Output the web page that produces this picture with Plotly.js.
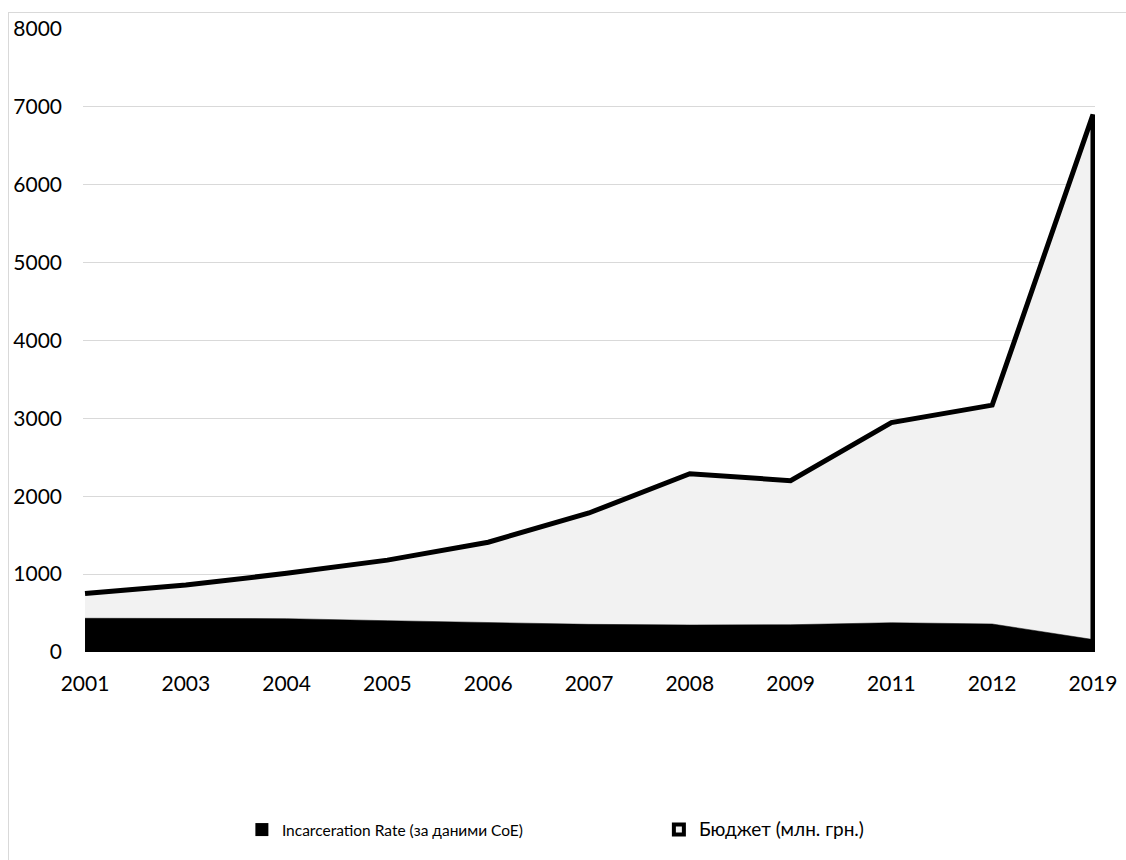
<!DOCTYPE html>
<html>
<head>
<meta charset="utf-8">
<script src="https://cdn.plot.ly/plotly-3.0.1.min.js"></script>
<style>
html,body{margin:0;padding:0;background:#fff;overflow:hidden;}
#wrap{position:relative;width:1126px;height:860px;overflow:hidden;}
#frame{position:absolute;left:8px;top:12px;width:1200px;height:900px;border-top:1px solid #d9d9d9;border-left:1px solid #d9d9d9;pointer-events:none;}
#chart{position:absolute;left:0;top:0;width:1126px;height:860px;}
</style>
</head>
<body>
<div id="wrap"><div id="frame"></div><div id="chart"></div></div>
<script>
const years = ["2001","2003","2004","2005","2006","2007","2008","2009","2011","2012","2019"];
const incarceration = [433, 433, 428, 402, 378, 355, 347, 350, 376, 360, 160];
const budget = [750, 860, 1010, 1180, 1410, 1785, 2290, 2200, 2945, 3170, 6900];
const yTicks = [0, 1000, 2000, 3000, 4000, 5000, 6000, 7000, 8000];
const nameIncarceration = "Incarceration Rate (за даними CoE)";
const nameBudget = "Бюджет (млн. грн.)";

const FONT = "Lato, 'Open Sans', sans-serif";

// Budget area as closed polygon (outlined on all sides)
const budgetX = years.concat([years[years.length - 1], years[0]]);
const budgetY = budget.concat([0, 0]);

const traces = [
  {
    type: "scatter", mode: "lines", x: budgetX, y: budgetY,
    fill: "toself", fillcolor: "#f2f2f2",
    line: {color: "#000000", width: 5},
    showlegend: false, hoverinfo: "skip"
  },
  {
    type: "scatter", mode: "lines", x: years, y: incarceration,
    fill: "tozeroy", fillcolor: "#000000",
    line: {color: "#000000", width: 0.5},
    showlegend: false, hoverinfo: "skip"
  },
  {
    type: "scatter", mode: "markers", x: [null], y: [null], name: nameIncarceration,
    marker: {symbol: "square", size: 13, color: "#000000"}
  },
  {
    type: "scatter", mode: "markers", x: [null], y: [null],
    name: '<span style="font-size:19px">' + nameBudget + '</span>',
    marker: {symbol: "square", size: 10, color: "#f2f2f2", line: {color: "#000000", width: 4}}
  }
];

const layout = {
  width: 1126, height: 860,
  margin: {l: 83, r: 31, t: 29, b: 208},
  paper_bgcolor: "rgba(0,0,0,0)", plot_bgcolor: "rgba(0,0,0,0)",
  font: {family: FONT, size: 21, color: "#000000"},
  xaxis: {
    type: "category", categoryorder: "array", categoryarray: years,
    range: [-0.02, 10.02], showgrid: false, zeroline: false, showline: false,
    ticks: "", ticklabelstandoff: 17,
    tickfont: {family: FONT, size: 21, color: "#000000"}
  },
  yaxis: {
    range: [0, 8000], tickvals: yTicks, ticktext: yTicks.map(String),
    showgrid: true, gridcolor: "#d9d9d9", gridwidth: 1,
    zeroline: false, showline: false, ticks: "", ticklabelstandoff: 20,
    tickfont: {family: FONT, size: 21, color: "#000000"}
  },
  showlegend: true,
  legend: {
    orientation: "h", x: 0.157, xanchor: "left", y: -0.2857, yanchor: "middle",
    font: {family: FONT, size: 15.5, color: "#000000"},
    entrywidth: 372, entrywidthmode: "pixels",
    itemwidth: 30, bgcolor: "rgba(0,0,0,0)"
  }
};

Plotly.newPlot("chart", traces, layout, {displayModeBar: false, staticPlot: true});
</script>
</body>
</html>
